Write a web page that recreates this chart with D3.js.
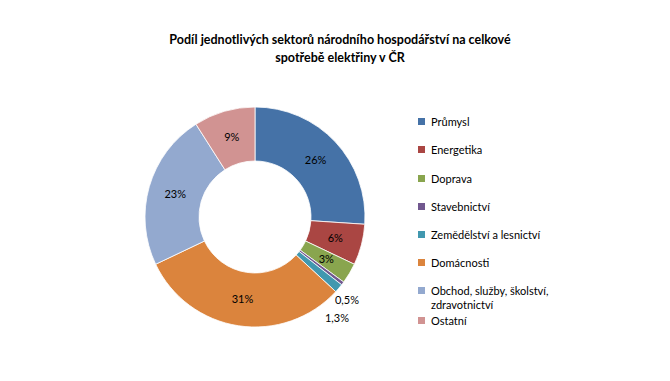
<!DOCTYPE html>
<html><head><meta charset="utf-8">
<script src="https://cdn.jsdelivr.net/npm/d3@7/dist/d3.min.js"></script>
<style>body{margin:0;background:#fff}svg{display:block}text{font-family:Lato,"Open Sans",sans-serif}</style>
</head><body>
<svg id="c" width="670" height="381"></svg>
<script>
const categories = ["Průmysl","Energetika","Doprava","Stavebnictví","Zemědělství a lesnictví","Domácnosti","Obchod, služby, školství, zdravotnictví","Ostatní"];
const values = [26, 6, 3, 0.5, 1.3, 31, 23, 9];
const valueLabels = ["26%","6%","3%","0,5%","1,3%","31%","23%","9%"];
const colors = ["#4572A7","#AA4643","#89A54E","#71588F","#4198AF","#DB843D","#93A9CF","#D19392"];
const titleLines = ["Podíl jednotlivých sektorů národního hospodářství na celkové","spotřebě elektřiny v ČR"];

const svg = d3.select("#c");
const cx = 255, cy = 217, R = 110, r0 = 56;

svg.append("g").selectAll("text").data(titleLines).join("text")
  .attr("x", 340).attr("y", (d,i)=>44 + i*18)
  .attr("text-anchor","middle").attr("font-size",12.5).attr("font-weight","bold").attr("fill","#000")
  .text(d=>d);

const pie = d3.pie().sort(null).value(d=>d)(values);
const arc = d3.arc().innerRadius(r0).outerRadius(R);
const g = svg.append("g").attr("transform",`translate(${cx},${cy})`);
g.selectAll("path").data(pie).join("path")
  .attr("d",arc).attr("fill",(d,i)=>colors[i]).attr("stroke","#fff").attr("stroke-width",0.8);

const labelArc = d3.arc().innerRadius((r0+R)/2).outerRadius((r0+R)/2);
const outside = {3:[92,83], 4:[82,101]};
g.selectAll("text").data(pie).join("text")
  .attr("transform",(d,i)=>{
    if (outside[i]) return `translate(${outside[i][0]},${outside[i][1]})`;
    const c = labelArc.centroid(d); return `translate(${c[0]},${c[1]})`;
  })
  .attr("dy","0.35em").attr("text-anchor","middle").attr("font-size",11).attr("fill","#000")
  .text((d,i)=>valueLabels[i]);

const legendY = [122,150,179,207,235,263,291,321];
const lg = svg.append("g");
categories.forEach((c,i)=>{
  lg.append("rect").attr("x",418).attr("y",legendY[i]-4).attr("width",7).attr("height",7).attr("fill",colors[i]);
  const words = c === categories[6] ? ["Obchod, služby, školství,","zdravotnictví"] : [c];
  words.forEach((w,j)=>{
    lg.append("text").attr("x",431).attr("y",legendY[i]+j*14).attr("dy","0.35em")
      .attr("font-size",11).attr("fill","#000").text(w);
  });
});
</script>
</body></html>
